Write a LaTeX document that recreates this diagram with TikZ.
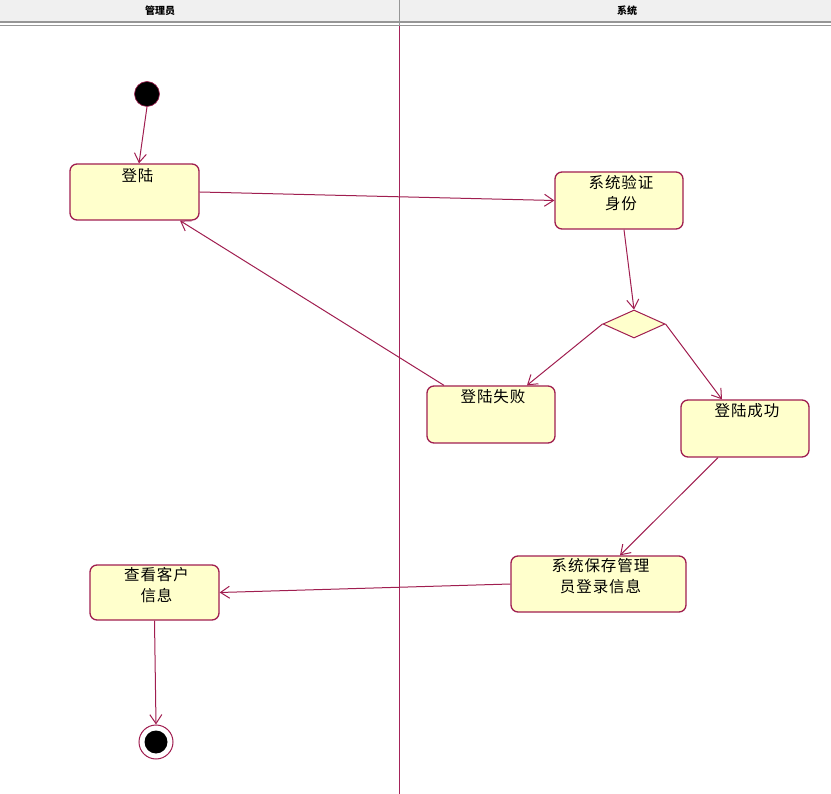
\documentclass[tikz,border=0pt]{standalone}
\usepackage{fontspec}
\newfontfamily\cjk[LetterSpace=6]{Noto Sans CJK SC}
\newfontfamily\cjkh{Noto Sans CJK SC}
\usetikzlibrary{arrows.meta,shapes.geometric}
\definecolor{umlred}{RGB}{160,30,80}
\definecolor{laneline}{RGB}{165,35,90}
\definecolor{umlfill}{RGB}{255,255,204}
\definecolor{hdrfill}{RGB}{240,240,240}
\definecolor{hdrline}{RGB}{150,150,150}
\tikzset{
  actbox/.style={draw=umlred, fill=umlfill, rounded corners=7pt, line width=1.3pt, inner sep=0pt},
  acttext/.style={font=\cjk\fontsize{15.5}{21}\selectfont, align=center, anchor=north, inner sep=0pt},
  flow/.style={draw=umlred, line width=1pt, -{Straight Barb[length=9pt,width=12pt]}},
  hdrtext/.style={font=\cjkh\fontsize{10}{12}\selectfont\bfseries, inner sep=0pt}
}
\begin{document}
\begin{tikzpicture}[x=1pt,y=-1pt]
\useasboundingbox (0,0) rectangle (831,794);
% header
\fill[hdrfill] (0,0) rectangle (831,22);
\draw[hdrline, line width=1.2pt] (0,22) -- (831,22);
\draw[hdrline, line width=1pt] (0,25.5) -- (831,25.5);
\draw[hdrline, line width=1.5pt] (399.5,0) -- (399.5,25);
\node[hdrtext] (h1) at (160,11) {管理员};
\node[hdrtext] (h2) at (627,11) {系统};
% swimlane divider
\fill[laneline] (398.6,26.5) rectangle (400.4,794);

% start
\node[circle, fill=black, draw=umlred, line width=0.6pt, minimum size=25pt, inner sep=0pt] (start) at (147,94) {};
% boxes
\node[actbox, minimum width=129pt, minimum height=56pt] (login) at (134.5,192) {};
\node[acttext] (logint) at (137.5,168) {登陆};
\node[actbox, minimum width=128pt, minimum height=57pt] (verify) at (619,200.5) {};
\node[acttext] (verifyt) at (621,175) {系统验证\\身份};
\node[diamond, draw=umlred, fill=umlfill, line width=1pt, minimum width=62pt, minimum height=28pt, inner sep=0pt, aspect=2.2] (dec) at (634,324) {};
\node[actbox, minimum width=128pt, minimum height=57pt] (fail) at (491,414.5) {};
\node[acttext] (failt) at (493,389) {登陆失败};
\node[actbox, minimum width=128pt, minimum height=57pt] (ok) at (745,428.5) {};
\node[acttext] (okt) at (747,403) {登陆成功};
\node[actbox, minimum width=175pt, minimum height=56pt] (save) at (598.5,584) {};
\node[acttext] (savet) at (600.5,558) {系统保存管理\\员登录信息};
\node[actbox, minimum width=129pt, minimum height=55pt] (view) at (154.5,592.5) {};
\node[acttext] (viewt) at (156.5,567) {查看客户\\信息};
% end
\node[circle, draw=umlred, fill=white, line width=1pt, minimum size=34pt, inner sep=0pt] (endo) at (156,742) {};
\node[circle, fill=black, minimum size=23pt, inner sep=0pt] (endi) at (endo.center) {};

% flows
\draw[flow] (start.south) -- (login.north -| 139,0);
\draw[flow] (login.east) -- (verify.west);
\draw[flow] (verify.south -| 624,0) -- (dec.north);
\draw[flow] (dec.west) -- (fail.north -| 527,0);
\draw[flow] (dec.east) -- (ok.north -| 722,0);
\draw[flow] (fail.north -| 444,0) -- (login.south -| 180,0);
\draw[flow] (ok.south -| 718,0) -- (save.north -| 620,0);
\draw[flow] (save.west) -- (view.east);
\draw[flow] (view.south) -- (endo.north);
\end{tikzpicture}
\end{document}
